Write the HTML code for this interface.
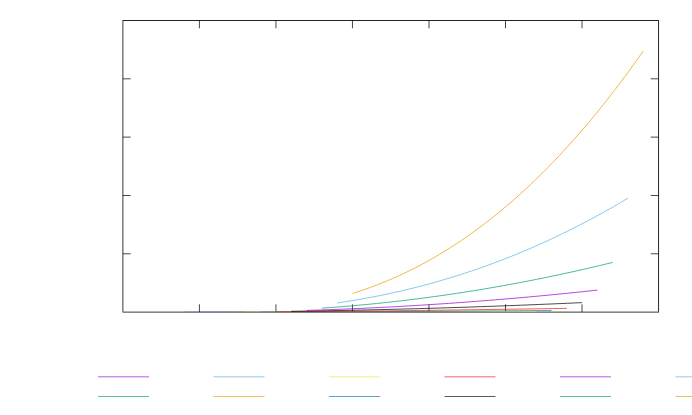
<!DOCTYPE html><html><head><meta charset="utf-8"><style>html,body{margin:0;padding:0;background:#fff;font-family:"Liberation Sans",sans-serif}svg{display:block}</style></head><body>
<svg width="692" height="415" viewBox="0 0 692 415">
<rect width="692" height="415" fill="#fff"/>
<g fill="none" stroke="#000"><path d="M122.5,20.5 H658.9749999999999" stroke-width="0.87"/><path d="M658.55,20.935 V311.72" stroke-width="0.85"/><path d="M122.5,312.11 H658.9749999999999" stroke-width="0.78"/><path d="M122.89,20.935 V311.72" stroke-width="0.78"/></g>
<path d="M199.41,312.11 v-7.8 M199.41,20.5 v7.8 M275.94,312.11 v-7.8 M275.94,20.5 v7.8 M352.46,312.11 v-7.8 M352.46,20.5 v7.8 M428.98,312.11 v-7.8 M428.98,20.5 v7.8 M505.50,312.11 v-7.8 M505.50,20.5 v7.8 M582.03,312.11 v-7.8 M582.03,20.5 v7.8 M122.89,253.79 h7.8 M658.55,253.79 h-7.8 M122.89,195.47 h7.8 M658.55,195.47 h-7.8 M122.89,137.14 h7.8 M658.55,137.14 h-7.8 M122.89,78.82 h7.8 M658.55,78.82 h-7.8" fill="none" stroke="#000" stroke-width="0.72"/>
<defs><clipPath id="c"><rect x="0" y="0" width="692" height="312"/></clipPath></defs>
<g fill="none" stroke-width="0.72" stroke-linejoin="round" clip-path="url(#c)">
<path d="M184.20,312.27 L187.83,312.27 L191.47,312.27 L195.10,312.27 L198.74,312.27 L202.38,312.27 L206.01,312.27 L209.64,312.27 L213.28,312.27 L216.91,312.27 L220.55,312.27 L224.19,312.27 L227.82,312.27 L231.45,312.27 L235.09,312.27 L238.72,312.27 L242.36,312.27 L246.00,312.27 L249.63,312.27 L253.26,312.26 L256.90,312.26 L260.53,312.26 L264.17,312.26 L267.81,312.26 L271.44,312.26 L275.07,312.26 L278.71,312.26 L282.35,312.26 L285.98,312.26 L289.62,312.26 L293.25,312.26 L296.88,312.26 L300.52,312.26 L304.15,312.26 L307.79,312.26 L311.42,312.26 L315.06,312.26 L318.69,312.26 L322.33,312.26 L325.97,312.26 L329.60,312.26 L333.24,312.26 L336.87,312.26 L340.50,312.26 L344.14,312.26 L347.77,312.26 L351.41,312.26 L355.04,312.26 L358.68,312.26 L362.31,312.26 L365.95,312.25 L369.59,312.25 L373.22,312.25 L376.86,312.25 L380.49,312.25 L384.12,312.25 L387.76,312.25 L391.39,312.25 L395.03,312.25 L398.66,312.25 L402.30,312.25 L405.93,312.25 L409.57,312.25 L413.21,312.25 L416.84,312.25 L420.48,312.25 L424.11,312.25 L427.75,312.25 L431.38,312.25 L435.01,312.25 L438.65,312.25 L442.28,312.25 L445.92,312.25 L449.56,312.25 L453.19,312.25 L456.82,312.25 L460.46,312.25 L464.10,312.25 L467.73,312.25 L471.37,312.25 L475.00,312.25" stroke="#9400D3"/>
<path d="M199.50,312.27 L203.13,312.27 L206.77,312.27 L210.41,312.27 L214.04,312.27 L217.68,312.27 L221.31,312.27 L224.94,312.27 L228.58,312.26 L232.22,312.26 L235.85,312.26 L239.49,312.26 L243.12,312.26 L246.75,312.26 L250.39,312.26 L254.03,312.26 L257.66,312.26 L261.30,312.26 L264.93,312.26 L268.56,312.26 L272.20,312.26 L275.84,312.26 L279.47,312.25 L283.11,312.25 L286.74,312.25 L290.38,312.25 L294.01,312.25 L297.64,312.25 L301.28,312.25 L304.92,312.25 L308.55,312.25 L312.19,312.25 L315.82,312.25 L319.45,312.25 L323.09,312.25 L326.73,312.25 L330.36,312.24 L334.00,312.24 L337.63,312.24 L341.26,312.24 L344.90,312.24 L348.54,312.24 L352.17,312.24 L355.81,312.24 L359.44,312.24 L363.07,312.24 L366.71,312.24 L370.35,312.24 L373.98,312.24 L377.62,312.23 L381.25,312.23 L384.88,312.23 L388.52,312.23 L392.16,312.23 L395.79,312.23 L399.43,312.23 L403.06,312.23 L406.70,312.23 L410.33,312.23 L413.97,312.23 L417.60,312.23 L421.24,312.23 L424.87,312.22 L428.50,312.22 L432.14,312.22 L435.77,312.22 L439.41,312.22 L443.05,312.22 L446.68,312.22 L450.31,312.22 L453.95,312.22 L457.58,312.22 L461.22,312.22 L464.86,312.22 L468.49,312.21 L472.12,312.21 L475.76,312.21 L479.40,312.21 L483.03,312.21 L486.67,312.21 L490.30,312.21" stroke="#009E73"/>
<path d="M214.80,312.26 L218.43,312.26 L222.07,312.26 L225.70,312.26 L229.34,312.26 L232.97,312.26 L236.61,312.26 L240.24,312.26 L243.88,312.25 L247.51,312.25 L251.15,312.25 L254.78,312.25 L258.42,312.25 L262.06,312.25 L265.69,312.25 L269.32,312.24 L272.96,312.24 L276.60,312.24 L280.23,312.24 L283.87,312.24 L287.50,312.24 L291.13,312.24 L294.77,312.23 L298.40,312.23 L302.04,312.23 L305.68,312.23 L309.31,312.23 L312.94,312.23 L316.58,312.22 L320.22,312.22 L323.85,312.22 L327.49,312.22 L331.12,312.22 L334.75,312.22 L338.39,312.21 L342.02,312.21 L345.66,312.21 L349.30,312.21 L352.93,312.21 L356.57,312.21 L360.20,312.20 L363.84,312.20 L367.47,312.20 L371.11,312.20 L374.74,312.20 L378.38,312.20 L382.01,312.19 L385.65,312.19 L389.28,312.19 L392.92,312.19 L396.55,312.19 L400.19,312.18 L403.82,312.18 L407.46,312.18 L411.09,312.18 L414.73,312.18 L418.36,312.18 L422.00,312.17 L425.63,312.17 L429.27,312.17 L432.90,312.17 L436.54,312.17 L440.17,312.16 L443.81,312.16 L447.44,312.16 L451.08,312.16 L454.71,312.16 L458.35,312.16 L461.98,312.15 L465.62,312.15 L469.25,312.15 L472.89,312.15 L476.52,312.15 L480.16,312.14 L483.79,312.14 L487.43,312.14 L491.06,312.14 L494.70,312.14 L498.33,312.13 L501.97,312.13 L505.60,312.13" stroke="#56B4E9"/>
<path d="M230.10,312.25 L233.73,312.25 L237.37,312.24 L241.00,312.24 L244.64,312.24 L248.27,312.24 L251.91,312.23 L255.54,312.23 L259.18,312.23 L262.81,312.22 L266.45,312.22 L270.08,312.22 L273.72,312.21 L277.36,312.21 L280.99,312.21 L284.62,312.20 L288.26,312.20 L291.89,312.20 L295.53,312.19 L299.16,312.19 L302.80,312.19 L306.44,312.18 L310.07,312.18 L313.70,312.18 L317.34,312.17 L320.97,312.17 L324.61,312.17 L328.25,312.16 L331.88,312.16 L335.51,312.15 L339.15,312.15 L342.78,312.15 L346.42,312.14 L350.05,312.14 L353.69,312.14 L357.32,312.13 L360.96,312.13 L364.59,312.12 L368.23,312.12 L371.87,312.12 L375.50,312.11 L379.13,312.11 L382.77,312.10 L386.40,312.10 L390.04,312.10 L393.67,312.09 L397.31,312.09 L400.94,312.08 L404.58,312.08 L408.21,312.08 L411.85,312.07 L415.48,312.07 L419.12,312.06 L422.75,312.06 L426.39,312.05 L430.02,312.05 L433.66,312.05 L437.29,312.04 L440.93,312.04 L444.56,312.03 L448.20,312.03 L451.83,312.02 L455.47,312.02 L459.10,312.02 L462.74,312.01 L466.37,312.01 L470.01,312.00 L473.64,312.00 L477.28,311.99 L480.91,311.99 L484.55,311.99 L488.18,311.98 L491.82,311.98 L495.45,311.97 L499.09,311.97 L502.72,311.96 L506.36,311.96 L509.99,311.95 L513.63,311.95 L517.26,311.94 L520.90,311.94" stroke="#E69F00"/>
<path d="M245.40,312.21 L249.03,312.20 L252.67,312.19 L256.31,312.19 L259.94,312.18 L263.57,312.17 L267.21,312.17 L270.84,312.16 L274.48,312.15 L278.12,312.15 L281.75,312.14 L285.38,312.13 L289.02,312.13 L292.65,312.12 L296.29,312.11 L299.93,312.10 L303.56,312.10 L307.19,312.09 L310.83,312.08 L314.47,312.07 L318.10,312.07 L321.74,312.06 L325.37,312.05 L329.00,312.04 L332.64,312.03 L336.27,312.03 L339.91,312.02 L343.55,312.01 L347.18,312.00 L350.81,311.99 L354.45,311.98 L358.09,311.98 L361.72,311.97 L365.36,311.96 L368.99,311.95 L372.62,311.94 L376.26,311.93 L379.89,311.92 L383.53,311.91 L387.17,311.90 L390.80,311.90 L394.44,311.89 L398.07,311.88 L401.71,311.87 L405.34,311.86 L408.98,311.85 L412.61,311.84 L416.25,311.83 L419.88,311.82 L423.51,311.81 L427.15,311.80 L430.79,311.79 L434.42,311.78 L438.06,311.77 L441.69,311.76 L445.33,311.76 L448.96,311.75 L452.60,311.74 L456.23,311.73 L459.87,311.72 L463.50,311.71 L467.13,311.70 L470.77,311.69 L474.41,311.68 L478.04,311.67 L481.68,311.66 L485.31,311.65 L488.95,311.64 L492.58,311.63 L496.22,311.62 L499.85,311.60 L503.49,311.59 L507.12,311.58 L510.76,311.57 L514.39,311.56 L518.03,311.55 L521.66,311.54 L525.30,311.53 L528.93,311.52 L532.57,311.51 L536.20,311.50" stroke="#F0E442"/>
<path d="M260.70,312.11 L264.33,312.10 L267.97,312.08 L271.61,312.07 L275.24,312.06 L278.88,312.04 L282.51,312.03 L286.14,312.02 L289.78,312.00 L293.41,311.99 L297.05,311.97 L300.69,311.96 L304.32,311.94 L307.95,311.93 L311.59,311.91 L315.22,311.89 L318.86,311.88 L322.50,311.86 L326.13,311.85 L329.76,311.83 L333.40,311.81 L337.03,311.80 L340.67,311.78 L344.31,311.76 L347.94,311.74 L351.57,311.73 L355.21,311.71 L358.85,311.69 L362.48,311.67 L366.12,311.65 L369.75,311.64 L373.38,311.62 L377.02,311.60 L380.65,311.58 L384.29,311.56 L387.92,311.54 L391.56,311.52 L395.19,311.50 L398.83,311.48 L402.47,311.46 L406.10,311.44 L409.74,311.42 L413.37,311.40 L417.00,311.38 L420.64,311.36 L424.27,311.34 L427.91,311.32 L431.54,311.30 L435.18,311.28 L438.81,311.26 L442.45,311.24 L446.09,311.22 L449.72,311.20 L453.36,311.17 L456.99,311.15 L460.62,311.13 L464.26,311.11 L467.89,311.09 L471.53,311.06 L475.16,311.04 L478.80,311.02 L482.43,311.00 L486.07,310.98 L489.71,310.95 L493.34,310.93 L496.98,310.91 L500.61,310.88 L504.25,310.86 L507.88,310.84 L511.51,310.81 L515.15,310.79 L518.78,310.77 L522.42,310.74 L526.06,310.72 L529.69,310.70 L533.33,310.67 L536.96,310.65 L540.60,310.62 L544.23,310.60 L547.87,310.57 L551.50,310.55" stroke="#0072B2"/>
<path d="M276.00,311.87 L279.63,311.84 L283.27,311.82 L286.90,311.79 L290.54,311.76 L294.18,311.73 L297.81,311.70 L301.44,311.67 L305.08,311.64 L308.71,311.61 L312.35,311.57 L315.99,311.54 L319.62,311.51 L323.25,311.48 L326.89,311.44 L330.52,311.41 L334.16,311.37 L337.80,311.34 L341.43,311.30 L345.06,311.26 L348.70,311.23 L352.33,311.19 L355.97,311.15 L359.61,311.12 L363.24,311.08 L366.88,311.04 L370.51,311.00 L374.14,310.96 L377.78,310.92 L381.41,310.88 L385.05,310.84 L388.69,310.80 L392.32,310.75 L395.95,310.71 L399.59,310.67 L403.22,310.63 L406.86,310.58 L410.50,310.54 L414.13,310.50 L417.76,310.45 L421.40,310.41 L425.03,310.36 L428.67,310.32 L432.30,310.27 L435.94,310.23 L439.57,310.18 L443.21,310.13 L446.84,310.08 L450.48,310.04 L454.11,309.99 L457.75,309.94 L461.38,309.89 L465.02,309.84 L468.65,309.79 L472.29,309.75 L475.92,309.70 L479.56,309.65 L483.19,309.59 L486.83,309.54 L490.46,309.49 L494.10,309.44 L497.73,309.39 L501.37,309.34 L505.00,309.29 L508.64,309.23 L512.27,309.18 L515.91,309.13 L519.54,309.07 L523.18,309.02 L526.81,308.97 L530.45,308.91 L534.08,308.86 L537.72,308.80 L541.36,308.75 L544.99,308.69 L548.62,308.63 L552.26,308.58 L555.89,308.52 L559.53,308.46 L563.16,308.41 L566.80,308.35" stroke="#E51E10"/>
<path d="M291.30,311.29 L294.94,311.24 L298.57,311.19 L302.21,311.13 L305.84,311.08 L309.48,311.02 L313.11,310.96 L316.75,310.90 L320.38,310.84 L324.01,310.78 L327.65,310.72 L331.29,310.65 L334.92,310.58 L338.56,310.51 L342.19,310.44 L345.82,310.37 L349.46,310.30 L353.10,310.22 L356.73,310.15 L360.37,310.07 L364.00,309.99 L367.63,309.91 L371.27,309.83 L374.91,309.74 L378.54,309.66 L382.18,309.57 L385.81,309.48 L389.45,309.39 L393.08,309.30 L396.72,309.21 L400.35,309.12 L403.99,309.02 L407.62,308.93 L411.25,308.83 L414.89,308.73 L418.52,308.63 L422.16,308.52 L425.80,308.42 L429.43,308.31 L433.07,308.21 L436.70,308.10 L440.34,307.99 L443.97,307.88 L447.61,307.77 L451.24,307.65 L454.88,307.54 L458.51,307.42 L462.14,307.30 L465.78,307.18 L469.42,307.06 L473.05,306.94 L476.69,306.81 L480.32,306.69 L483.96,306.56 L487.59,306.43 L491.23,306.31 L494.86,306.17 L498.50,306.04 L502.13,305.91 L505.76,305.77 L509.40,305.64 L513.03,305.50 L516.67,305.36 L520.31,305.22 L523.94,305.08 L527.58,304.94 L531.21,304.79 L534.85,304.65 L538.48,304.50 L542.12,304.35 L545.75,304.20 L549.38,304.05 L553.02,303.90 L556.65,303.74 L560.29,303.59 L563.92,303.43 L567.56,303.27 L571.20,303.11 L574.83,302.95 L578.47,302.79 L582.10,302.63" stroke="#000000"/>
<path d="M306.60,310.42 L310.24,310.31 L313.87,310.19 L317.51,310.08 L321.14,309.95 L324.78,309.83 L328.41,309.70 L332.05,309.57 L335.68,309.43 L339.32,309.29 L342.95,309.14 L346.59,309.00 L350.22,308.85 L353.86,308.69 L357.49,308.53 L361.13,308.37 L364.76,308.20 L368.40,308.03 L372.03,307.86 L375.67,307.68 L379.30,307.50 L382.94,307.32 L386.57,307.13 L390.21,306.94 L393.84,306.75 L397.48,306.55 L401.11,306.35 L404.75,306.14 L408.38,305.93 L412.02,305.72 L415.65,305.50 L419.29,305.28 L422.92,305.06 L426.56,304.83 L430.19,304.60 L433.83,304.36 L437.46,304.12 L441.10,303.88 L444.73,303.64 L448.37,303.39 L452.00,303.13 L455.64,302.88 L459.27,302.62 L462.91,302.35 L466.54,302.09 L470.18,301.82 L473.81,301.54 L477.45,301.26 L481.08,300.98 L484.72,300.70 L488.35,300.41 L491.99,300.12 L495.62,299.82 L499.26,299.52 L502.89,299.22 L506.53,298.91 L510.16,298.60 L513.80,298.29 L517.43,297.97 L521.07,297.65 L524.70,297.33 L528.34,297.00 L531.97,296.67 L535.61,296.33 L539.24,296.00 L542.88,295.65 L546.51,295.31 L550.15,294.96 L553.78,294.61 L557.42,294.25 L561.05,293.89 L564.69,293.53 L568.32,293.16 L571.96,292.79 L575.59,292.42 L579.23,292.04 L582.86,291.66 L586.50,291.27 L590.13,290.88 L593.77,290.49 L597.40,290.10" stroke="#9400D3"/>
<path d="M321.90,308.17 L325.53,307.91 L329.17,307.65 L332.81,307.38 L336.44,307.10 L340.07,306.82 L343.71,306.52 L347.34,306.22 L350.98,305.91 L354.62,305.59 L358.25,305.27 L361.88,304.93 L365.52,304.59 L369.15,304.24 L372.79,303.88 L376.43,303.51 L380.06,303.14 L383.69,302.75 L387.33,302.36 L390.97,301.96 L394.60,301.55 L398.24,301.14 L401.87,300.72 L405.50,300.28 L409.14,299.84 L412.77,299.40 L416.41,298.94 L420.05,298.48 L423.68,298.01 L427.31,297.53 L430.95,297.04 L434.59,296.54 L438.22,296.04 L441.86,295.53 L445.49,295.01 L449.12,294.48 L452.76,293.94 L456.39,293.40 L460.03,292.85 L463.67,292.29 L467.30,291.72 L470.94,291.14 L474.57,290.56 L478.21,289.96 L481.84,289.36 L485.48,288.76 L489.11,288.14 L492.75,287.51 L496.38,286.88 L500.01,286.24 L503.65,285.59 L507.29,284.94 L510.92,284.27 L514.56,283.60 L518.19,282.92 L521.83,282.23 L525.46,281.53 L529.10,280.83 L532.73,280.12 L536.37,279.39 L540.00,278.67 L543.63,277.93 L547.27,277.18 L550.90,276.43 L554.54,275.67 L558.17,274.90 L561.81,274.12 L565.45,273.34 L569.08,272.55 L572.72,271.75 L576.35,270.94 L579.99,270.12 L583.62,269.30 L587.26,268.46 L590.89,267.62 L594.53,266.77 L598.16,265.92 L601.80,265.05 L605.43,264.18 L609.07,263.30 L612.70,262.41" stroke="#009E73"/>
<path d="M337.20,302.94 L340.83,302.41 L344.47,301.86 L348.11,301.29 L351.74,300.70 L355.38,300.10 L359.01,299.48 L362.64,298.84 L366.28,298.18 L369.91,297.51 L373.55,296.82 L377.19,296.11 L380.82,295.38 L384.45,294.63 L388.09,293.87 L391.72,293.08 L395.36,292.28 L399.00,291.46 L402.63,290.62 L406.26,289.76 L409.90,288.88 L413.53,287.98 L417.17,287.06 L420.81,286.12 L424.44,285.17 L428.07,284.19 L431.71,283.20 L435.35,282.18 L438.98,281.15 L442.62,280.09 L446.25,279.02 L449.88,277.92 L453.52,276.81 L457.15,275.67 L460.79,274.52 L464.42,273.34 L468.06,272.14 L471.69,270.93 L475.33,269.69 L478.97,268.43 L482.60,267.15 L486.24,265.85 L489.87,264.53 L493.50,263.19 L497.14,261.83 L500.77,260.44 L504.41,259.04 L508.04,257.61 L511.68,256.16 L515.32,254.70 L518.95,253.21 L522.59,251.69 L526.22,250.16 L529.86,248.60 L533.49,247.03 L537.12,245.43 L540.76,243.81 L544.39,242.16 L548.03,240.50 L551.66,238.81 L555.30,237.10 L558.93,235.37 L562.57,233.62 L566.21,231.84 L569.84,230.04 L573.48,228.22 L577.11,226.38 L580.75,224.52 L584.38,222.63 L588.01,220.72 L591.65,218.78 L595.28,216.83 L598.92,214.85 L602.56,212.84 L606.19,210.82 L609.83,208.77 L613.46,206.70 L617.10,204.60 L620.73,202.48 L624.37,200.34 L628.00,198.18" stroke="#56B4E9"/>
<path d="M352.50,293.42 L356.13,292.27 L359.77,291.09 L363.40,289.86 L367.04,288.60 L370.68,287.29 L374.31,285.94 L377.94,284.55 L381.58,283.12 L385.21,281.65 L388.85,280.13 L392.49,278.57 L396.12,276.97 L399.75,275.32 L403.39,273.63 L407.02,271.90 L410.66,270.12 L414.30,268.29 L417.93,266.42 L421.56,264.50 L425.20,262.54 L428.83,260.53 L432.47,258.48 L436.11,256.38 L439.74,254.23 L443.38,252.03 L447.01,249.79 L450.64,247.50 L454.28,245.16 L457.91,242.77 L461.55,240.34 L465.19,237.85 L468.82,235.32 L472.45,232.73 L476.09,230.10 L479.72,227.41 L483.36,224.68 L487.00,221.89 L490.63,219.06 L494.26,216.17 L497.90,213.23 L501.53,210.24 L505.17,207.20 L508.80,204.11 L512.44,200.96 L516.08,197.76 L519.71,194.51 L523.35,191.20 L526.98,187.85 L530.62,184.44 L534.25,180.97 L537.88,177.45 L541.52,173.88 L545.15,170.25 L548.79,166.57 L552.42,162.83 L556.06,159.04 L559.69,155.19 L563.33,151.29 L566.96,147.33 L570.60,143.31 L574.23,139.24 L577.87,135.11 L581.50,130.93 L585.14,126.69 L588.77,122.39 L592.41,118.04 L596.04,113.62 L599.68,109.15 L603.31,104.62 L606.95,100.04 L610.58,95.39 L614.22,90.69 L617.86,85.93 L621.49,81.11 L625.12,76.23 L628.76,71.29 L632.39,66.29 L636.03,61.23 L639.66,56.11 L643.30,50.93" stroke="#E69F00"/>
</g>
<g fill="none" stroke-width="0.65">
<path d="M98.0,376.825 h51" stroke="#9400D3"/>
<path d="M98.0,396.5 h51" stroke="#009E73"/>
<path d="M213.5,376.825 h51" stroke="#56B4E9"/>
<path d="M213.5,396.5 h51" stroke="#E69F00"/>
<path d="M329.0,376.825 h51" stroke="#F0E442"/>
<path d="M329.0,396.5 h51" stroke="#0072B2"/>
<path d="M444.5,376.825 h51" stroke="#E51E10"/>
<path d="M444.5,396.5 h51" stroke="#000000"/>
<path d="M560.0,376.825 h51" stroke="#9400D3"/>
<path d="M560.0,396.5 h51" stroke="#009E73"/>
<path d="M675.5,376.825 h51" stroke="#56B4E9"/>
<path d="M675.5,396.5 h51" stroke="#E69F00"/>
</g>
</svg></body></html>
